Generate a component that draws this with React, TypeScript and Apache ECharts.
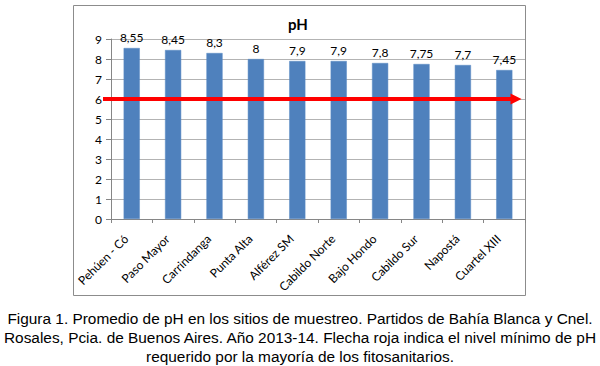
import React, { useEffect, useRef } from "react";
import * as echarts from "echarts";

const categories = [
  "Pehúen - Có",
  "Paso Mayor",
  "Carrindanga",
  "Punta Alta",
  "Alférez SM",
  "Cabildo Norte",
  "Bajo Hondo",
  "Cabildo Sur",
  "Napostá",
  "Cuartel XIII",
];
const phValues = [8.55, 8.45, 8.3, 8, 7.9, 7.9, 7.8, 7.75, 7.7, 7.45];
const yMin = 0;
const yMax = 9;
const yInterval = 1;
const minimumPh = 6;
const chartTitle = "pH";
const captionLines = [
  "Figura 1. Promedio de pH en los sitios de muestreo. Partidos de Bahía Blanca y Cnel.",
  "Rosales, Pcia. de Buenos Aires. Año 2013-14. Flecha roja indica el nivel mínimo de pH",
  "requerido por la mayoría de los fitosanitarios.",
];

export default function App() {
  const ref = useRef<HTMLDivElement>(null);
  useEffect(() => {
    if (!ref.current) return;
    const chart = echarts.init(ref.current, null, { renderer: "svg" });
    const labelFont = "Lato, 'Open Sans', sans-serif";
    chart.setOption({
      animation: false,
      backgroundColor: "#ffffff",
      grid: { left: 111, right: 75, top: 39, bottom: 147, containLabel: false },
      xAxis: {
        type: "category",
        data: categories,
        axisLine: { show: true, lineStyle: { color: "#868686", width: 1 } },
        axisTick: { show: true, alignWithLabel: false, length: 4, lineStyle: { color: "#868686" } },
        axisLabel: {
          rotate: 45,
          fontSize: 12,
          color: "#000",
          fontFamily: labelFont,
          margin: 12,
          padding: [0, 8, 0, 0],
          interval: 0,
        },
        splitLine: { show: false },
      },
      yAxis: {
        type: "value",
        min: yMin,
        max: yMax,
        interval: yInterval,
        axisLine: { show: true, lineStyle: { color: "#868686", width: 1 } },
        axisTick: { show: true, length: 5, lineStyle: { color: "#868686" } },
        axisLabel: { fontSize: 12, color: "#000", fontFamily: labelFont, margin: 9 },
        splitLine: { show: true, lineStyle: { color: "#b3b3b3", width: 1 } },
      },
      series: [
        {
          type: "bar",
          data: phValues,
          barWidth: "39%",
          clip: false,
          itemStyle: { color: "#4f81bd", borderColor: "#5b8ac4", borderWidth: 0.5 },
          label: {
            show: true,
            position: "top",
            distance: 5,
            fontSize: 12,
            color: "#000",
            fontFamily: labelFont,
            formatter: (p: any) => String(p.value).replace(".", ","),
          },
          markLine: {
            silent: true,
            symbol: ["none", "triangle"],
            symbolSize: [11, 11],
            label: { show: false },
            lineStyle: { color: "#ff0000", width: 4, type: "solid" },
            data: [[{ x: 103, yAxis: minimumPh }, { x: 516, yAxis: minimumPh }]],
          },
        },
      ],
      graphic: [
        {
          type: "rect",
          shape: { x: 73.5, y: 5.5, width: 452, height: 290 },
          style: { fill: "none", stroke: "#8c8c8c", lineWidth: 1 },
          silent: true,
          z: -1,
        },
        {
          type: "text",
          x: 298,
          y: 24,
          style: {
            text: chartTitle,
            fontSize: 15,
            fontWeight: "bold",
            fontFamily: labelFont,
            fill: "#000",
            textAlign: "center",
            textVerticalAlign: "middle",
          },
        },
        ...captionLines.map((line, i) => ({
          type: "text",
          x: 300,
          y: 318 + i * 19,
          style: {
            text: line,
            fontSize: 15.4,
            fontFamily: "'Liberation Sans', Arial, sans-serif",
            fill: "#000",
            textAlign: "center",
            textVerticalAlign: "middle",
          },
        })),
      ],
    });
    return () => chart.dispose();
  }, []);
  return (
    <div
      ref={ref}
      style={{ position: "fixed", left: 0, top: 0, width: 600, height: 366 }}
    />
  );
}
